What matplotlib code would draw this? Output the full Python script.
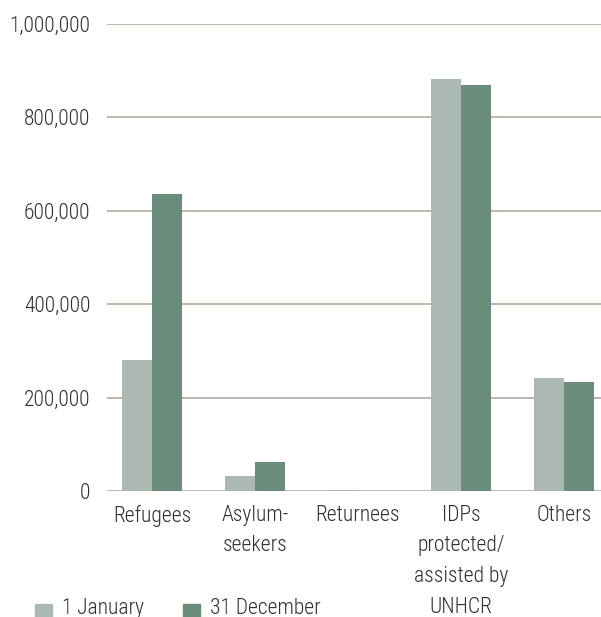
import matplotlib
matplotlib.use('Agg')
import matplotlib.pyplot as plt
import numpy as np
from matplotlib.ticker import FuncFormatter
from matplotlib.patches import Rectangle

plt.rcParams['font.family'] = ['Roboto Condensed', 'Archivo Narrow', 'PT Sans Narrow', 'DejaVu Sans']
plt.rcParams['font.weight'] = 'light'

categories = ['Refugees', 'Asylum-\nseekers', 'Returnees',
              'IDPs\nprotected/\nassisted by\nUNHCR', 'Others']
jan_values = [280500, 32000, 3000, 882000, 242000]
dec_values = [636000, 62000, 500, 869000, 233000]
series_names = ['1 January', '31 December']

LIGHT = '#abb9b2'
DARK = '#6a8c7a'
GRID = '#b7b0a6'
TEXT = '#2e2e2e'

fig = plt.figure(figsize=(6.01, 6.17), dpi=100)
ax = fig.add_axes([107 / 601, 1 - 491 / 617, 1 - 107 / 601, (491 - 24) / 617])

x = np.arange(len(categories))
w = 0.29
ax.bar(x - w / 2, jan_values, w, color=LIGHT, zorder=3)
ax.bar(x + w / 2, dec_values, w, color=DARK, zorder=3)

ax.set_xlim(-0.437, 4.36)
ax.set_ylim(0, 1000000)
ax.set_yticks(np.arange(0, 1000001, 200000))
ax.yaxis.set_major_formatter(FuncFormatter(lambda v, p: f'{int(v):,}'))
ax.grid(axis='y', color=GRID, linewidth=1.3, zorder=0)
ax.set_axisbelow(True)
for s in ax.spines.values():
    s.set_visible(False)
ax.tick_params(axis='both', length=0, labelsize=15.5, colors=TEXT)
ax.tick_params(axis='y', pad=12)
ax.tick_params(axis='x', pad=10)
ax.set_xticks(x)
ax.set_xticklabels(categories, linespacing=1.6, va='top')

# legend at bottom-left
for px, tx, lbl, col in [(35, 62, series_names[0], LIGHT), (183, 210, series_names[1], DARK)]:
    fig.patches.append(Rectangle((px / 601, 1 - 621 / 617), 17 / 601, 17 / 617,
                                 transform=fig.transFigure, color=col))
    fig.text(tx / 601, 1 - 614 / 617, lbl, fontsize=15.5, color=TEXT,
             va='baseline', ha='left')

fig.savefig('out.png', dpi=100)
